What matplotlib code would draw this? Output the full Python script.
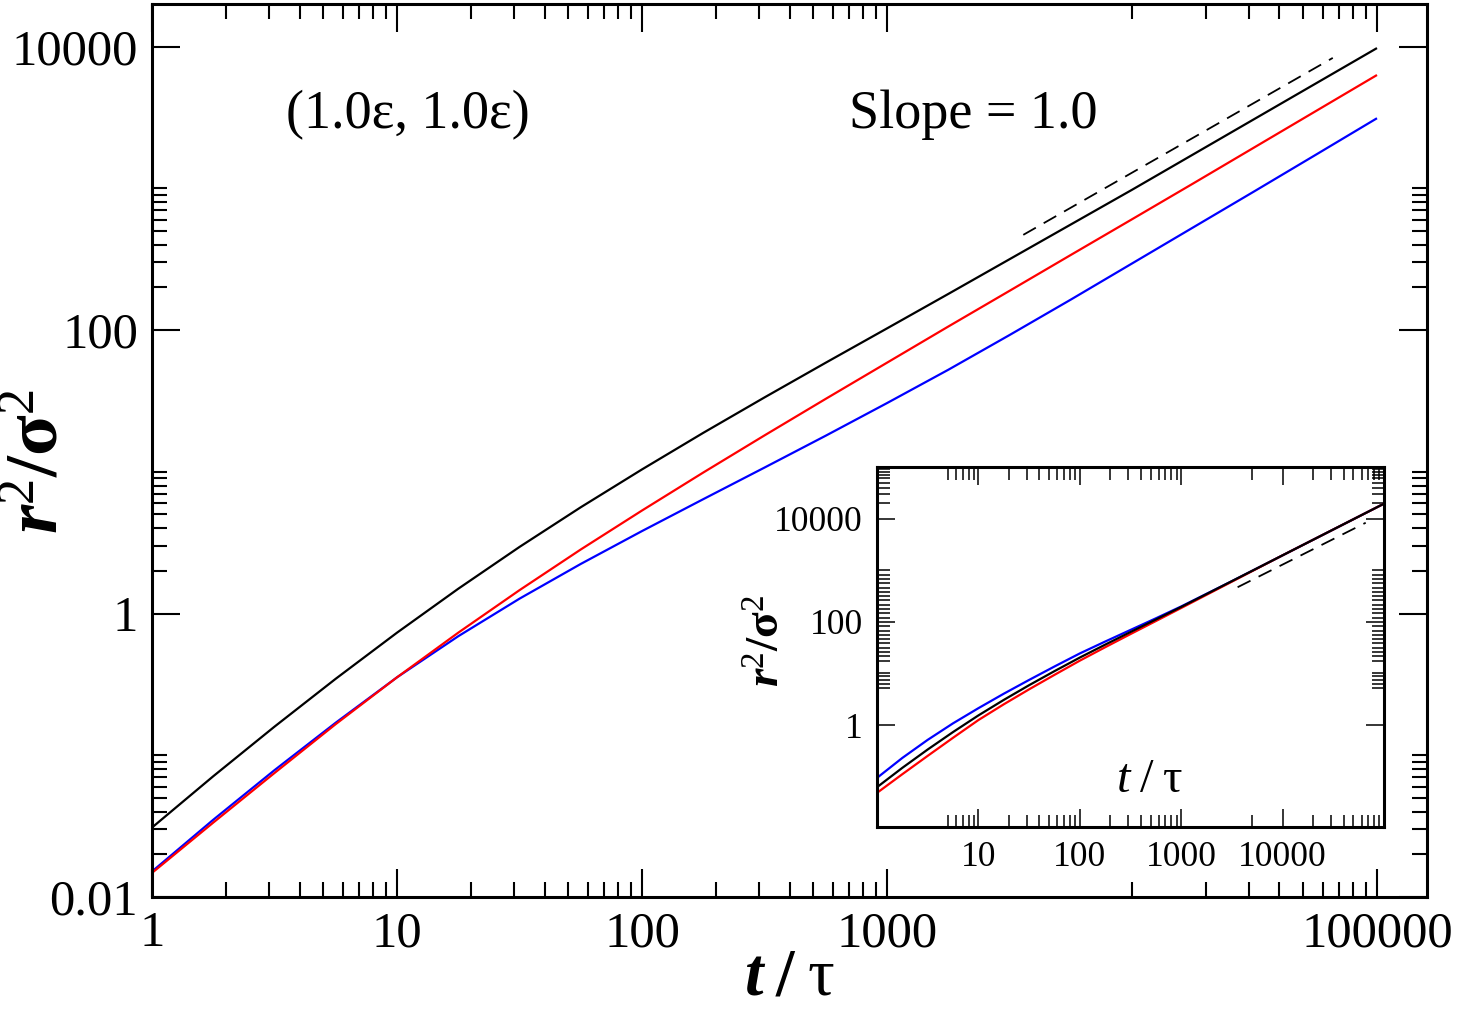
import numpy as np
import matplotlib
matplotlib.use("Agg")
import matplotlib.pyplot as plt
from matplotlib.ticker import FixedLocator, NullFormatter, FixedFormatter

plt.rcParams['font.family'] = ['Liberation Serif', 'DejaVu Serif']
plt.rcParams['mathtext.fontset'] = 'custom'
plt.rcParams['mathtext.rm'] = 'Liberation Serif'
plt.rcParams['mathtext.it'] = 'Liberation Serif:italic'
plt.rcParams['mathtext.bf'] = 'Liberation Serif:bold'
try:
    plt.rcParams['mathtext.bfit'] = 'Liberation Serif:italic:bold'
except KeyError:
    pass

# main panel data (log10 t, log10 r^2/sigma^2)
log_t = [0, 0.25, 0.5, 0.75, 1.0, 1.25, 1.5, 1.75, 2.0, 2.25, 2.5, 2.75,
         3.0, 3.25, 3.5, 3.75, 4.0, 4.25, 4.5, 4.75, 5.0]
black_main = [-1.51, -1.148, -0.798, -0.46, -0.135, 0.175, 0.47, 0.75, 1.017, 1.275, 1.525, 1.77,
              2.012, 2.255, 2.50, 2.745, 2.99, 3.24, 3.49, 3.74, 3.99]
red_main = [-1.83, -1.475, -1.125, -0.78, -0.45, -0.135, 0.165, 0.452, 0.727, 0.995, 1.257, 1.515,
            1.77, 2.025, 2.277, 2.53, 2.782, 3.035, 3.29, 3.545, 3.80]
blue_main = [-1.82, -1.455, -1.105, -0.77, -0.45, -0.16, 0.105, 0.35, 0.582, 0.807, 1.03, 1.255,
             1.485, 1.72, 1.965, 2.215, 2.47, 2.725, 2.98, 3.237, 3.495]

# inset data
log_t_in = log_t
black_in = [-1.20, -0.825, -0.47, -0.132, 0.19, 0.49, 0.775, 1.047, 1.31, 1.56, 1.805, 2.047,
            2.29, 2.54, 2.79, 3.04, 3.29, 3.54, 3.79, 4.04, 4.29]
red_in = [-1.31, -0.948, -0.593, -0.243, 0.10, 0.405, 0.695, 0.975, 1.25, 1.51, 1.765, 2.017,
          2.27, 2.525, 2.78, 3.035, 3.29, 3.54, 3.79, 4.04, 4.29]
blue_in = [-1.02, -0.633, -0.283, 0.037, 0.33, 0.61, 0.877, 1.137, 1.39, 1.62, 1.845, 2.07,
           2.30, 2.545, 2.79, 3.04, 3.29, 3.54, 3.79, 4.04, 4.29]

# slope = 1 guide
dash_t = [3600, 66000]
dash_y = [470, 8330]

x_major = [1, 10, 100, 1000, 100000]
x_major_labels = ['1', '10', '100', '1000', '100000']
y_major = [0.01, 1, 100, 10000]
y_major_labels = ['0.01', '1', '100', '10000']

in_x_major = [10, 100, 1000, 10000]
in_x_labels = ['10', '100', '1000', '10000']
in_y_major = [1, 100, 10000]
in_y_labels = ['1', '100', '10000']

t = lambda lt: 10.0 ** np.array(lt)

fig = plt.figure(figsize=(14.57, 10.13), dpi=100)
ax = fig.add_axes([152/1457, 1-897/1013, 1275/1457, 893/1013])
ins = fig.add_axes([877/1457, 1-827/1013, 507/1457, 360/1013])

lw = 1.6
for a, lt, curves in [(ax, log_t, [blue_main, red_main, black_main]),
                      (ins, log_t_in, [blue_in, red_in, black_in])]:
    for yv, c in zip(curves, ['#0000ff', '#ff0000', '#000000']):
        a.plot(t(lt), t(yv), color=c, lw=lw, solid_capstyle='butt', solid_joinstyle='round')
    a.plot(dash_t, dash_y, color='black', lw=1.3, dashes=(8, 5))
    a.set_xscale('log')
    a.set_yscale('log')
    for s in a.spines.values():
        s.set_linewidth(2.2)

# main axes ticks
ax.set_xlim(1, 1.6e5)
ax.set_ylim(0.01, 2.0e4)
x_minor = [k * d for d in (1, 10, 100) for k in range(2, 10)] + [10000] + [k * 10000 for k in range(2, 10)]
y_minor = [k * d for d in (0.01, 1, 100) for k in range(2, 11)]
ax.xaxis.set_major_locator(FixedLocator(x_major))
ax.xaxis.set_major_formatter(FixedFormatter(x_major_labels))
ax.xaxis.set_minor_locator(FixedLocator(x_minor))
ax.xaxis.set_minor_formatter(NullFormatter())
ax.yaxis.set_major_locator(FixedLocator(y_major))
ax.yaxis.set_major_formatter(FixedFormatter(y_major_labels))
ax.yaxis.set_minor_locator(FixedLocator(y_minor))
ax.yaxis.set_minor_formatter(NullFormatter())
ax.tick_params(which='both', direction='in', top=True, right=True, width=1.5)
ax.tick_params(which='major', length=20, labelsize=36.5, pad=10)
ax.tick_params(which='minor', length=11)

# inset ticks (the original has a crowded band of minor ticks on the y axis)
ins.set_xlim(1, 1e5)
ins.set_ylim(0.0107, 1e5)
in_x_minor = list(range(5, 10)) + [k * 10 for k in range(2, 10)] + [k * 100 for k in range(2, 10)] \
    + [5000] + [k * 10000 for k in range(2, 10)]
in_y_minor = list(10 ** np.linspace(0.72, 1.02, 5)) + list(10 ** np.linspace(1.25, 3.0, 22)) \
    + [k * 10000 for k in range(2, 10)]
ins.xaxis.set_major_locator(FixedLocator(in_x_major))
ins.xaxis.set_major_formatter(FixedFormatter(in_x_labels))
ins.xaxis.set_minor_locator(FixedLocator(in_x_minor))
ins.xaxis.set_minor_formatter(NullFormatter())
ins.yaxis.set_major_locator(FixedLocator(in_y_major))
ins.yaxis.set_major_formatter(FixedFormatter(in_y_labels))
ins.yaxis.set_minor_locator(FixedLocator(in_y_minor))
ins.yaxis.set_minor_formatter(NullFormatter())
ins.tick_params(which='both', direction='in', top=True, right=True, width=1.1)
ins.tick_params(which='major', length=13, labelsize=25.5, pad=10)
ins.tick_params(which='minor', length=9)

# texts
ax.text(0.201, 0.876, '(1.0\u03b5, 1.0\u03b5)', transform=ax.transAxes,
        ha='center', va='center', fontsize=39)
ax.text(0.644, 0.876, 'Slope = 1.0', transform=ax.transAxes,
        ha='center', va='center', fontsize=39)

fig.text(40/1457, 1-461/1013, r'$\mathbfit{r}^{2}\mathbf{/}\mathbf{\sigma}^{2}$',
         rotation=90, ha='center', va='center', fontsize=54)
fig.text(790/1457, 1-978/1013, r'$\mathbfit{t}\;\mathbf{/}\;\mathrm{\tau}$',
         ha='center', va='center', fontsize=48)

fig.text(768/1457, 1-641/1013, r'$\mathbfit{r}^{2}\mathbf{/}\mathbf{\sigma}^{2}$',
         rotation=90, ha='center', va='center', fontsize=34)
ins.text(0.538, 0.131, r'$\mathit{t}\;\mathit{/}\;\mathrm{\tau}$', transform=ins.transAxes,
         ha='center', va='center', fontsize=35)

fig.savefig('out.png', dpi=100)
